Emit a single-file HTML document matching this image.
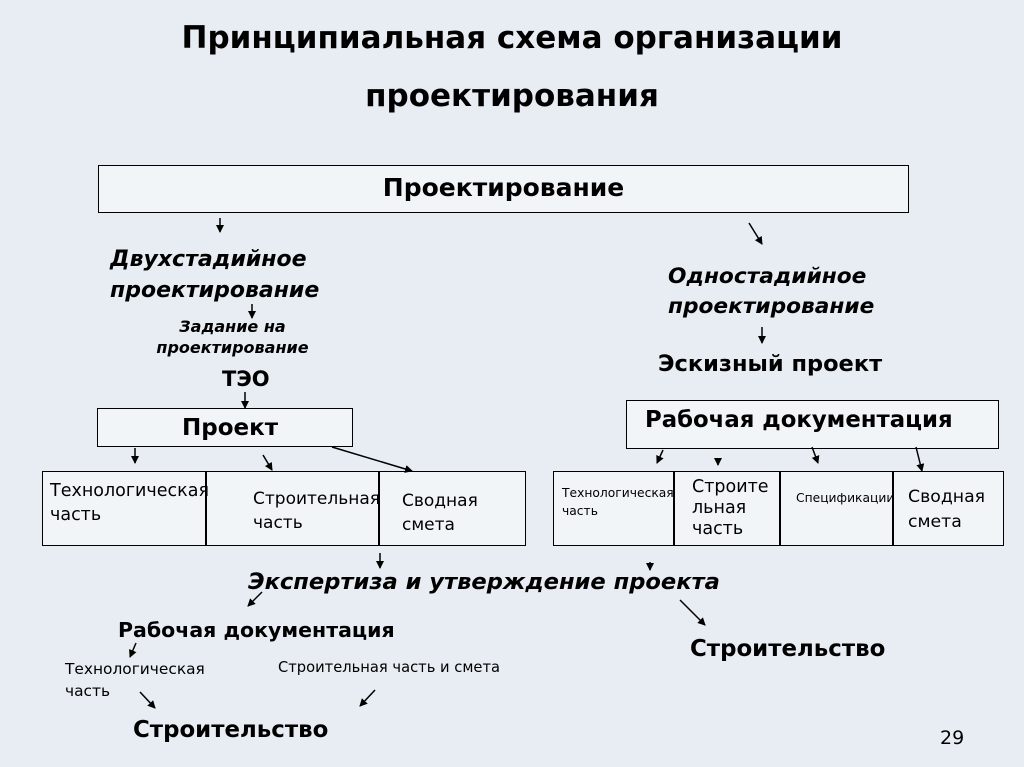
<!DOCTYPE html>
<html><head><meta charset="utf-8"><style>
body{margin:0;width:1024px;height:767px;background:#e7edf3;position:relative;overflow:hidden;font-family:"DejaVu Sans","Liberation Sans",sans-serif;color:#000}
.t{position:absolute;white-space:nowrap}
.b{font-weight:bold}.i{font-style:italic}
.box{position:absolute;border:1.5px solid #000;background:#f2f5f8;box-sizing:border-box}
</style></head><body>
<div class="t b" style="left:0;width:1024px;text-align:center;top:20px;font-size:31px">Принципиальная схема организации</div>
<div class="t b" style="left:0;width:1024px;text-align:center;top:78px;font-size:31px">проектирования</div>

<div class="box" style="left:98px;top:165px;width:811px;height:48px"></div>
<div class="t b" style="left:98px;width:811px;text-align:center;top:173px;font-size:25px">Проектирование</div>

<div class="t b i" style="left:110px;top:247px;font-size:22px">Двухстадийное</div>
<div class="t b i" style="left:110px;top:278px;font-size:22px">проектирование</div>
<div class="t b i" style="left:140px;top:316px;width:185px;text-align:center;font-size:16px;line-height:21px">Задание на<br>проектирование</div>
<div class="t b" style="left:222px;top:367px;font-size:21px">ТЭО</div>

<div class="box" style="left:97px;top:408px;width:256px;height:39px"></div>
<div class="t b" style="left:182px;top:415px;font-size:23px">Проект</div>

<div class="box" style="left:42px;top:471px;width:484px;height:75px"></div>
<div style="position:absolute;left:205px;top:471px;width:1.5px;height:75px;background:#000"></div>
<div style="position:absolute;left:378px;top:471px;width:1.5px;height:75px;background:#000"></div>
<div class="t" style="left:50px;top:479px;font-size:17.5px;line-height:24px">Технологическая<br>часть</div>
<div class="t" style="left:253px;top:487px;font-size:17px;line-height:24px">Строительная<br>часть</div>
<div class="t" style="left:402px;top:489px;font-size:17px;line-height:24px">Сводная<br>смета</div>

<div class="t b i" style="left:668px;top:264px;font-size:21.7px">Одностадийное</div>
<div class="t b i" style="left:668px;top:294px;font-size:21.7px">проектирование</div>
<div class="t b" style="left:658px;top:351px;font-size:22.5px">Эскизный проект</div>
<div class="box" style="left:626px;top:400px;width:373px;height:49px"></div>
<div class="t b" style="left:645px;top:407px;font-size:22.8px">Рабочая документация</div>

<div class="box" style="left:553px;top:471px;width:451px;height:75px"></div>
<div style="position:absolute;left:673px;top:471px;width:1.5px;height:75px;background:#000"></div>
<div style="position:absolute;left:779px;top:471px;width:1.5px;height:75px;background:#000"></div>
<div style="position:absolute;left:892px;top:471px;width:1.5px;height:75px;background:#000"></div>
<div class="t" style="left:562px;top:484px;font-size:12.3px;line-height:18px">Технологическая<br>часть</div>
<div class="t" style="left:692px;top:477px;font-size:17.5px;line-height:21px">Строите<br>льная<br>часть</div>
<div class="t" style="left:796px;top:491px;font-size:12.3px">Спецификации</div>
<div class="t" style="left:908px;top:485px;font-size:17.3px;line-height:25px">Сводная<br>смета</div>

<div class="t b i" style="left:248px;top:569px;font-size:22.6px">Экспертиза и утверждение проекта</div>
<div class="t b" style="left:118px;top:618px;font-size:20.5px">Рабочая документация</div>
<div class="t b" style="left:690px;top:636px;font-size:22.9px">Строительство</div>
<div class="t" style="left:65px;top:658px;font-size:15.4px;line-height:22px">Технологическая<br>часть</div>
<div class="t" style="left:278px;top:659px;font-size:14.7px">Строительная часть и смета</div>
<div class="t b" style="left:133px;top:717px;font-size:22.9px">Строительство</div>
<div class="t" style="left:940px;top:727px;font-size:19px">29</div>

<svg width="1024" height="767" style="position:absolute;left:0;top:0">
<defs><marker id="a" markerWidth="8" markerHeight="8" refX="7" refY="4" orient="auto" markerUnits="userSpaceOnUse"><path d="M0,0 L8,4 L0,8z" fill="#000"/></marker></defs>
<g stroke="#000" stroke-width="1.5" marker-end="url(#a)">
<line x1="220" y1="218" x2="220" y2="232"/>
<line x1="749" y1="223" x2="762" y2="244"/>
<line x1="252" y1="304" x2="252" y2="318"/>
<line x1="245" y1="392" x2="245" y2="408"/>
<line x1="135" y1="448" x2="135" y2="463"/>
<line x1="263" y1="455" x2="272" y2="470"/>
<line x1="332" y1="447" x2="412" y2="471"/>
<line x1="762" y1="327" x2="762" y2="343"/>
<line x1="663" y1="450" x2="657" y2="463"/>
<line x1="718" y1="458" x2="718" y2="465"/>
<line x1="812" y1="447" x2="818" y2="463"/>
<line x1="916" y1="447" x2="922" y2="471"/>
<line x1="380" y1="553" x2="380" y2="568"/>
<line x1="650" y1="562" x2="650" y2="570"/>
<line x1="262" y1="592" x2="248" y2="606"/>
<line x1="680" y1="600" x2="705" y2="625"/>
<line x1="136" y1="643" x2="130" y2="657"/>
<line x1="140" y1="692" x2="155" y2="708"/>
<line x1="375" y1="690" x2="360" y2="706"/>
</g></svg>
</body></html>
